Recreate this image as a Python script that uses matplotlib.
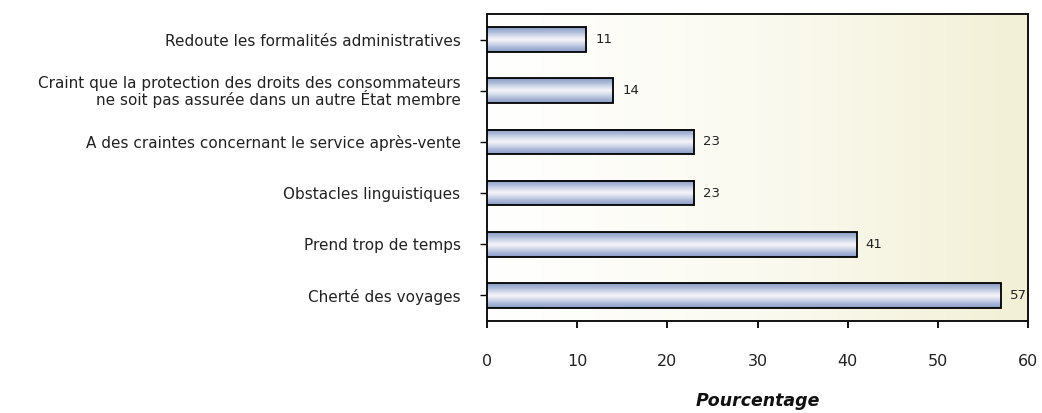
import numpy as np
import matplotlib.pyplot as plt
from matplotlib.colors import LinearSegmentedColormap

categories = [
    "Cherté des voyages",
    "Prend trop de temps",
    "Obstacles linguistiques",
    "A des craintes concernant le service après-vente",
    "Craint que la protection des droits des consommateurs\nne soit pas assurée dans un autre État membre",
    "Redoute les formalités administratives",
]
values = [57, 41, 23, 23, 14, 11]
xticks = [0, 10, 20, 30, 40, 50, 60]

fig = plt.figure(figsize=(10.42, 4.13), dpi=100)
ax = fig.add_axes([487 / 1042, 1 - 321 / 413, (1028 - 487) / 1042, (321 - 14) / 413])

# background gradient of the plot area (white -> pale beige)
bg = LinearSegmentedColormap.from_list("bg", ["#ffffff", "#fbfaf0", "#f2f0d6"])
ax.imshow(np.linspace(0, 1, 256).reshape(1, -1), cmap=bg, aspect="auto",
          extent=[0, 1, 0, 1], transform=ax.transAxes, zorder=0)

# bar gradient: blue at top/bottom edges, near-white in the middle
barcm = LinearSegmentedColormap.from_list(
    "bar", ["#8a9cc6", "#a9b7d6", "#d3d9ea", "#f7f5fb", "#d3d9ea", "#a9b7d6", "#8a9cc6"])
grad = np.linspace(0, 1, 64).reshape(-1, 1)

ypos = np.arange(len(categories))
h = 0.48
bars = ax.barh(ypos, values, height=h, color="#a2b3d3", edgecolor="black",
               linewidth=1.3, zorder=3)
for b in bars:
    x0, y0 = b.get_x(), b.get_y()
    w, hh = b.get_width(), b.get_height()
    ax.imshow(grad, cmap=barcm, aspect="auto",
              extent=[x0, x0 + w, y0, y0 + hh], zorder=3.5)
    b.set_facecolor("none")
    b.set_zorder(4)
    ax.text(w + 1.0, b.get_y() + hh / 2, str(int(w)), va="center", ha="left",
            fontsize=9.5, color="#222222", zorder=5)

ax.set_xlim(0, 60)
ax.set_ylim(-0.5, len(categories) - 0.5)
ax.set_xticks(xticks)
ax.set_yticks(ypos)
ax.set_yticklabels(categories, fontsize=11, color="#222222", linespacing=0.95)
ax.tick_params(axis="y", length=5, width=1, pad=14)
ax.tick_params(axis="x", length=5, width=1.3, pad=19, labelsize=11.5, labelcolor="#222222")
for s in ax.spines.values():
    s.set_linewidth(1.4)
    s.set_color("#111111")

ax.set_xlabel("Pourcentage", fontsize=12.5, fontweight="bold", fontstyle="italic",
              labelpad=16, color="#111111")

fig.savefig("out.png", dpi=100)
